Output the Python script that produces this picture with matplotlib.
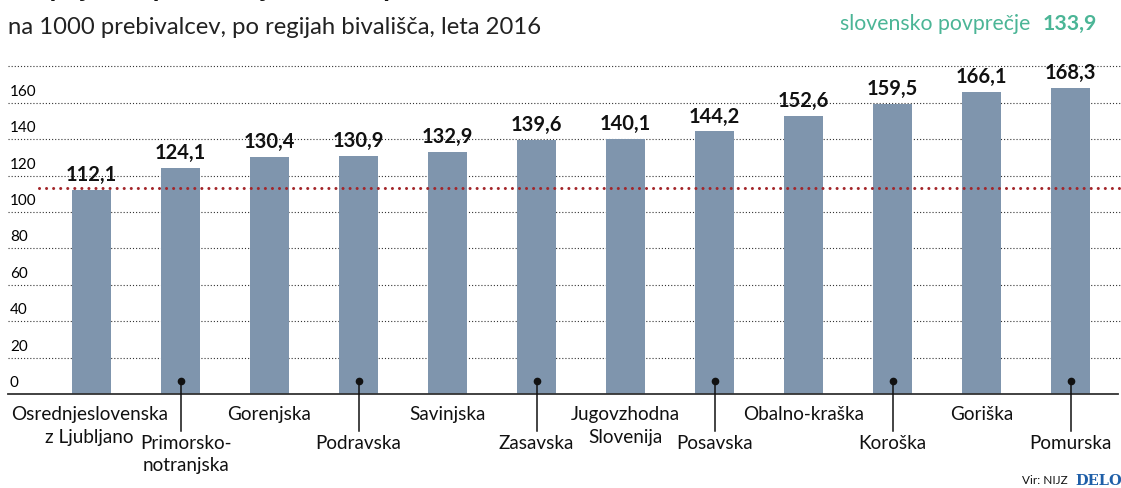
import matplotlib
matplotlib.use("Agg")
import matplotlib.pyplot as plt
from matplotlib import font_manager

# Data: hospitalisation rate per 1000 inhabitants by region of residence, 2016
regions = [
    "Osrednjeslovenska\nz Ljubljano", "Primorsko-\nnotranjska", "Gorenjska",
    "Podravska", "Savinjska", "Zasavska", "Jugovzhodna\nSlovenija",
    "Posavska", "Obalno-kraška", "Koroška", "Goriška", "Pomurska",
]
values = [112.1, 124.1, 130.4, 130.9, 132.9, 139.6, 140.1, 144.2, 152.6, 159.5, 166.1, 168.3]
national_avg = 133.9
reference_line = 113.0
y_ticks = [0, 20, 40, 60, 80, 100, 120, 140, 160, 180]

available = {f.name for f in font_manager.fontManager.ttflist}
MAIN = ["Lato", "DejaVu Sans"] if "Lato" in available else ["DejaVu Sans"]
NARROW = (["Liberation Sans Narrow", "DejaVu Sans"]
          if "Liberation Sans Narrow" in available else MAIN)

BAR = "#7f95ad"
GREEN = "#4bb596"
RED = "#a3262a"

W, H = 1121, 488
fig = plt.figure(figsize=(W / 100, H / 100), dpi=100)
fig.patch.set_facecolor("white")

# Axes span the full width; x data unit = one bar slot (89 px), bar 0 centred at 91.5 px
x0_px, step_px = 91.5, 89.0
y0_px, ytop_px = 394.3, 66.2
ax = fig.add_axes([0, (H - y0_px) / H, 1, (y0_px - ytop_px) / H])
ax.set_xlim(-x0_px / step_px, (W - x0_px) / step_px)
ax.set_ylim(0, 180)
ax.axis("off")


def px_to_x(px):
    return (px - x0_px) / step_px


# Dotted gridlines and their labels
for t in y_ticks[1:]:
    ax.plot([px_to_x(8), px_to_x(W)], [t, t], color="#333333", lw=0.8,
            linestyle=(0, (1, 1.8)), clip_on=False, zorder=1)
for t in y_ticks[:-1]:
    ax.text(px_to_x(10), t + 2.2, str(t), ha="left", va="bottom",
            fontsize=11, family=NARROW, color="#000000", zorder=3)

# Bars
xs = list(range(len(values)))
ax.bar(xs, values, width=0.44, color=BAR, zorder=2)

# Baseline
ax.plot([px_to_x(8), px_to_x(1118)], [0, 0], color="#333333", lw=1.3,
        clip_on=False, zorder=4)

# Dotted reference line
ax.plot([px_to_x(39), px_to_x(W)], [reference_line, reference_line], color=RED,
        lw=2.2, linestyle=(0, (0.01, 2.3)), dash_capstyle="round",
        clip_on=False, zorder=3)

# Value labels
for x, v in zip(xs, values):
    ax.annotate(f"{v:.1f}".replace(".", ","), (x, v), xytext=(0, 3.5),
                textcoords="offset points", ha="center", va="bottom",
                fontsize=14.5, fontweight="bold", family=MAIN, color="#111111",
                zorder=5, annotation_clip=False)

# Category labels, alternating between two rows
label_nudge_px = {0: -2, 1: 5}
for x, name in zip(xs, regions):
    lx = x + label_nudge_px.get(x, 0) / step_px
    if x % 2 == 0:
        ax.text(lx, -6.5, name, ha="center", va="top", fontsize=13.6,
                family=MAIN, color="#111111", linespacing=1.45, clip_on=False)
    else:
        ax.plot([x, x], [7.5, -20], color="#111111", lw=1.1, clip_on=False, zorder=5)
        ax.plot([x], [7.5], "o", color="#111111", ms=4.5, clip_on=False, zorder=6)
        ax.text(lx, -22.5, name, ha="center", va="top", fontsize=13.6,
                family=MAIN, color="#111111", linespacing=1.3, clip_on=False)

# Header texts
fig.text(8 / W, 1 - (-12) / H, "Stopnja hospitalizacij na 1000 prebivalcev",
         ha="left", va="center", fontsize=20, fontweight="bold",
         family=MAIN, color="#111111")
fig.text(8 / W, 1 - 28 / H, "na 1000 prebivalcev, po regijah bivališča, leta 2016",
         ha="left", va="center", fontsize=17.2, family=MAIN, color="#222222")
fig.text(1030 / W, 1 - 24 / H, "slovensko povprečje", ha="right", va="center",
         fontsize=15.3, family=MAIN, color=GREEN)
fig.text(1043 / W, 1 - 24 / H, f"{national_avg:.1f}".replace(".", ","),
         ha="left", va="center", fontsize=15.3, fontweight="bold",
         family=MAIN, color=GREEN)

# Source line
fig.text(1068 / W, 1 - 481 / H, "Vir: NIJZ", ha="right", va="center",
         fontsize=8.5, family=NARROW, color="#111111")
fig.text(1075 / W, 1 - 481 / H, "DELO", ha="left", va="center",
         fontsize=10.5, fontweight="bold", family=["DejaVu Serif"], color="#1f5fa8")

fig.savefig("out.png", dpi=100, facecolor="white")
